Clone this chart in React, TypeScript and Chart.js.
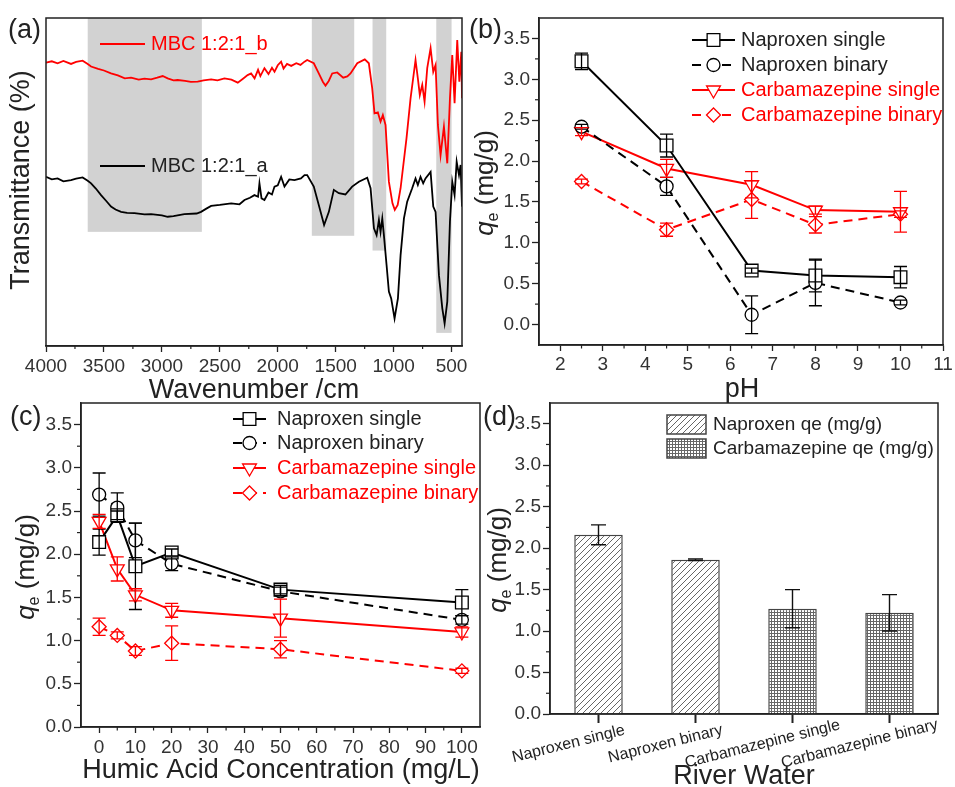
import React, { useEffect, useRef } from 'react';
import { Chart, registerables } from 'chart.js';
Chart.register(...registerables);

const FONT = "'Liberation Sans', Arial, Helvetica, sans-serif";
const INK = '#222222';
const RED = '#ff0000';
const W = 955;
const H = 787;

// ---------------- (a) FTIR spectra ----------------
const irWnB = [4000, 3950, 3900, 3850, 3784, 3740, 3684, 3640, 3611, 3550, 3500, 3439, 3380, 3320, 3266, 3200, 3150, 3093, 3040, 2993, 2950, 2900, 2864, 2800, 2750, 2691, 2640, 2575, 2520, 2460, 2400, 2345, 2300, 2260, 2230, 2200, 2170, 2150, 2115, 2080, 2050, 2028, 2000, 1971, 1950, 1920, 1884, 1840, 1804, 1769, 1746, 1689, 1646, 1610, 1588, 1560, 1530, 1487, 1435, 1400, 1372, 1314, 1249, 1214, 1185, 1165, 1136, 1113, 1093, 1070, 1041, 1010, 990, 965, 940, 889, 854, 811, 791, 774, 753, 733, 710, 681, 658, 638, 618, 595, 566, 537, 514, 494, 474, 451, 433, 416, 410];
const irTB = [86.4, 86.8, 86.2, 86.9, 86.0, 86.6, 87.0, 86.0, 85.2, 84.5, 84.0, 83.1, 82.5, 81.6, 81.8, 81.2, 81.5, 81.3, 81.8, 82.3, 81.6, 81.0, 81.1, 80.8, 80.5, 80.6, 81.0, 81.3, 81.0, 81.6, 81.2, 80.3, 81.5, 82.6, 83.1, 81.6, 84.2, 82.3, 84.7, 82.9, 84.8, 83.6, 85.6, 86.7, 84.6, 86.0, 85.4, 86.2, 85.7, 86.7, 87.2, 86.2, 83.1, 80.5, 79.4, 80.8, 83.1, 83.4, 81.8, 82.2, 83.1, 86.2, 87.4, 86.2, 78.6, 70.9, 71.2, 68.4, 70.4, 67.4, 50.1, 43.5, 41.5, 43.0, 48.1, 63.3, 75.5, 87.2, 81.6, 76.5, 79.6, 74.5, 84.7, 90.8, 83.6, 85.7, 67.4, 58.2, 66.9, 55.7, 75.5, 88.7, 74.0, 93.3, 80.6, 89.7, 75.5];
const irWnA = [4000, 3950, 3900, 3850, 3784, 3740, 3684, 3640, 3611, 3570, 3525, 3480, 3439, 3400, 3352, 3300, 3237, 3150, 3093, 3000, 2950, 2900, 2806, 2700, 2662, 2620, 2575, 2500, 2402, 2330, 2287, 2240, 2201, 2170, 2158, 2140, 2115, 2080, 2050, 2028, 2000, 1971, 1942, 1900, 1856, 1800, 1769, 1746, 1689, 1646, 1600, 1559, 1516, 1473, 1416, 1358, 1300, 1228, 1199, 1170, 1147, 1127, 1113, 1098, 1084, 1061, 1041, 1021, 992, 963, 940, 911, 883, 840, 811, 791, 768, 745, 725, 681, 658, 638, 609, 580, 560, 537, 514, 494, 474, 456, 436, 422, 410];
const irTA = [51.6, 50.8, 51.1, 50.2, 50.6, 51.0, 51.4, 50.4, 49.6, 48.0, 46.0, 44.2, 42.5, 41.6, 40.9, 40.6, 40.5, 40.1, 40.2, 39.8, 39.4, 39.6, 40.2, 40.4, 40.9, 41.8, 42.7, 43.0, 43.5, 43.2, 44.5, 45.2, 46.0, 45.5, 49.6, 45.0, 44.5, 46.8, 46.2, 48.6, 49.0, 51.6, 48.6, 50.8, 50.6, 51.1, 52.1, 52.1, 48.6, 43.0, 36.9, 40.9, 47.6, 46.6, 46.2, 48.6, 50.1, 51.3, 48.1, 35.9, 33.8, 38.4, 34.8, 38.9, 33.8, 24.7, 16.6, 14.5, 8.4, 14.5, 27.7, 38.9, 44.0, 48.1, 51.1, 49.1, 51.6, 49.6, 51.1, 53.1, 42.5, 40.9, 21.6, 11.5, 6.9, 13.5, 37.9, 50.1, 46.0, 56.2, 52.1, 55.2, 42.5];
const irBandFrom = [3640, 1706, 1182, 632];
const irBandTo = [2655, 1340, 1064, 500];
const irBandBottom = [34.8, 33.6, 29.1, 4];
const irTicks = [4000, 3500, 3000, 2500, 2000, 1500, 1000, 500];
const irMinor = [3750, 3250, 2750, 2250, 1750, 1250, 750];
const irLabels = ['MBC 1:2:1_b', 'MBC 1:2:1_a'];

// ---------------- (b) pH ----------------
const phX = [2.5, 4.5, 6.5, 8, 10];
const phNapSingle = [3.22, 2.19, 0.66, 0.6, 0.58];
const phNapSingleErr = [0.1, 0.14, 0.03, 0.2, 0.13];
const phNapBinary = [2.42, 1.69, 0.12, 0.51, 0.27];
const phNapBinaryErr = [0.03, 0.11, 0.23, 0.28, 0.03];
const phCbzSingle = [2.36, 1.91, 1.71, 1.4, 1.38];
const phCbzSingleErr = [0.05, 0.11, 0.16, 0.05, 0.25];
const phCbzBinary = [1.75, 1.16, 1.53, 1.22, 1.35];
const phCbzBinaryErr = [0.03, 0.08, 0.23, 0.1, 0.04];
const phXTicks = [2, 3, 4, 5, 6, 7, 8, 9, 10, 11];
const phXMinor = [2.5, 3.5, 4.5, 5.5, 6.5, 7.5, 8.5, 9.5, 10.5];

// ---------------- (c) humic acid ----------------
const haX = [0, 5, 10, 20, 50, 100];
const haNapSingle = [2.14, 2.45, 1.86, 2.02, 1.59, 1.44];
const haNapSingleErr = [0.15, 0.05, 0.5, 0.04, 0.05, 0.15];
const haNapBinary = [2.69, 2.54, 2.16, 1.89, 1.57, 1.24];
const haNapBinaryErr = [0.25, 0.17, 0.2, 0.08, 0.05, 0.05];
const haCbzSingle = [2.38, 1.83, 1.53, 1.35, 1.26, 1.1];
const haCbzSingleErr = [0.08, 0.14, 0.07, 0.08, 0.22, 0.06];
const haCbzBinary = [1.16, 1.06, 0.88, 0.97, 0.9, 0.65];
const haCbzBinaryErr = [0.1, 0.04, 0.05, 0.2, 0.1, 0.03];
const haXTicks = [0, 10, 20, 30, 40, 50, 60, 70, 80, 90, 100];
const haXMinor = [5, 15, 25, 35, 45, 55, 65, 75, 85, 95];

// ---------------- (d) river water ----------------
const rwCategories = ['Naproxen single', 'Naproxen binary', 'Carbamazepine single', 'Carbamazepine binary'];
const rwNaproxen = [2.16, 1.86, null, null];
const rwNaproxenErr = [0.12, 0.01, 0, 0];
const rwCarbamazepine = [null, null, 1.27, 1.22];
const rwCarbamazepineErr = [0, 0, 0.23, 0.22];
const rwLegend = ['Naproxen qe (mg/g)', 'Carbamazepine qe (mg/g)'];

// shared q axis
const qTicks = [0, 0.5, 1, 1.5, 2, 2.5, 3, 3.5];
const qMinor = [0.25, 0.75, 1.25, 1.75, 2.25, 2.75, 3.25];
const seriesNames = ['Naproxen single', 'Naproxen binary', 'Carbamazepine single', 'Carbamazepine binary'];

// ---------------- helpers ----------------
function linAxis(o: any) {
  return {
    type: 'linear',
    display: o.display !== false,
    min: o.min,
    max: o.max,
    reverse: !!o.reverse,
    afterFit: (s: any) => {
      if (o.horizontal) s.height = o.size;
      else s.width = o.size;
    },
    afterBuildTicks: (s: any) => {
      if (o.ticks) s.ticks = o.ticks.map((v: number) => ({ value: v }));
    },
    grid: { display: true, drawOnChartArea: false, drawTicks: true, tickLength: o.tickLength ?? 6, color: INK, tickWidth: 1.3 },
    border: { display: true, color: INK, width: 1.5 },
    ticks: {
      display: o.labels !== false,
      autoSkip: false,
      maxRotation: 0,
      minRotation: 0,
      padding: o.padding ?? 3,
      color: '#333',
      font: { family: FONT, size: 19 },
      callback: (v: any) => (o.fmt ? o.fmt(v) : String(v)),
    },
  };
}

function framePlugin() {
  return {
    id: 'frame',
    afterDraw(chart: any) {
      const { left, top, right, bottom } = chart.chartArea;
      const ctx = chart.ctx;
      ctx.save();
      ctx.strokeStyle = INK;
      ctx.lineWidth = 1.5;
      ctx.strokeRect(left, top, right - left, bottom - top);
      ctx.restore();
    },
  };
}

function minorPlugin(specs: { axis: string; values: number[]; len: number }[]) {
  return {
    id: 'minorTicks',
    afterDraw(chart: any) {
      const ctx = chart.ctx;
      const a = chart.chartArea;
      ctx.save();
      ctx.strokeStyle = INK;
      ctx.lineWidth = 1.2;
      for (const s of specs) {
        const sc = chart.scales[s.axis];
        for (const v of s.values) {
          const p = sc.getPixelForValue(v);
          ctx.beginPath();
          if (s.axis === 'x') {
            ctx.moveTo(p, a.bottom);
            ctx.lineTo(p, a.bottom + s.len);
          } else {
            ctx.moveTo(a.left, p);
            ctx.lineTo(a.left - s.len, p);
          }
          ctx.stroke();
        }
      }
      ctx.restore();
    },
  };
}

function errorPlugin(cap: number, lw: number) {
  return {
    id: 'errorBars',
    afterDatasetsDraw(chart: any) {
      const ctx = chart.ctx;
      const ys = chart.scales.y;
      chart.data.datasets.forEach((ds: any, i: number) => {
        const errs = ds.errors;
        if (!errs) return;
        const meta = chart.getDatasetMeta(i);
        ctx.save();
        ctx.strokeStyle = ds.errorColor || ds.borderColor;
        ctx.lineWidth = lw;
        ctx.setLineDash([]);
        meta.data.forEach((el: any, j: number) => {
          const raw = ds.data[j];
          const v = raw == null ? null : typeof raw === 'object' ? raw.y : raw;
          if (v == null || !errs[j]) return;
          const x = el.x;
          const t = ys.getPixelForValue(v + errs[j]);
          const b = ys.getPixelForValue(v - errs[j]);
          ctx.beginPath();
          ctx.moveTo(x, t);
          ctx.lineTo(x, b);
          ctx.moveTo(x - cap / 2, t);
          ctx.lineTo(x + cap / 2, t);
          ctx.moveTo(x - cap / 2, b);
          ctx.lineTo(x + cap / 2, b);
          ctx.stroke();
        });
        ctx.restore();
      });
    },
  };
}

function textPlugin(draw: (ctx: CanvasRenderingContext2D, chart: any) => void) {
  return {
    id: 'texts',
    afterDraw(chart: any) {
      const ctx = chart.ctx as CanvasRenderingContext2D;
      ctx.save();
      draw(ctx, chart);
      ctx.restore();
    },
  };
}

function text(ctx: CanvasRenderingContext2D, s: string, x: number, y: number, size: number, color = INK, align: CanvasTextAlign = 'left', baseline: CanvasTextBaseline = 'alphabetic') {
  ctx.font = `${size}px ${FONT}`;
  ctx.fillStyle = color;
  ctx.textAlign = align;
  ctx.textBaseline = baseline;
  ctx.fillText(s, x, y);
}

function rotText(ctx: CanvasRenderingContext2D, s: string, cx: number, cy: number, size: number, angle: number, color = INK) {
  ctx.save();
  ctx.translate(cx, cy);
  ctx.rotate(angle);
  text(ctx, s, 0, 0, size, color, 'center', 'middle');
  ctx.restore();
}

function drawQe(ctx: CanvasRenderingContext2D, cx: number, cy: number, size: number) {
  ctx.save();
  ctx.translate(cx, cy);
  ctx.rotate(-Math.PI / 2);
  const fq = `italic ${size}px ${FONT}`;
  const fe = `${Math.round(size * 0.62)}px ${FONT}`;
  const fr = `${size}px ${FONT}`;
  ctx.font = fq;
  const wq = ctx.measureText('q').width;
  ctx.font = fe;
  const we = ctx.measureText('e').width;
  ctx.font = fr;
  const wr = ctx.measureText(' (mg/g)').width;
  let x = -(wq + we + wr) / 2;
  const base = size * 0.33;
  ctx.fillStyle = INK;
  ctx.textAlign = 'left';
  ctx.textBaseline = 'alphabetic';
  ctx.font = fq;
  ctx.fillText('q', x, base);
  x += wq;
  ctx.font = fe;
  ctx.fillText('e', x, base + size * 0.22);
  x += we;
  ctx.font = fr;
  ctx.fillText(' (mg/g)', x, base);
  ctx.restore();
}

function drawMarker(ctx: CanvasRenderingContext2D, style: string, x: number, y: number, r: number, color: string) {
  ctx.beginPath();
  if (style === 'rect') {
    const s = Math.SQRT1_2 * r;
    ctx.rect(x - s, y - s, 2 * s, 2 * s);
  } else if (style === 'circle') {
    ctx.arc(x, y, r, 0, Math.PI * 2);
  } else if (style === 'triangle') {
    // pointing down
    ctx.moveTo(x, y + r);
    ctx.lineTo(x + r * Math.sin((2 * Math.PI) / 3), y - r * 0.5);
    ctx.lineTo(x - r * Math.sin((2 * Math.PI) / 3), y - r * 0.5);
    ctx.closePath();
  } else {
    ctx.moveTo(x - r, y);
    ctx.lineTo(x, y - r);
    ctx.lineTo(x + r, y);
    ctx.lineTo(x, y + r);
    ctx.closePath();
  }
  ctx.fillStyle = '#fff';
  ctx.fill();
  ctx.strokeStyle = color;
  ctx.lineWidth = 1.3;
  ctx.setLineDash([]);
  ctx.stroke();
}

const seriesStyle = [
  { color: '#000', dashed: false, style: 'rect', r: 9, rot: 0 },
  { color: '#000', dashed: true, style: 'circle', r: 6.5, rot: 0 },
  { color: RED, dashed: false, style: 'triangle', r: 8, rot: 180 },
  { color: RED, dashed: true, style: 'rectRot', r: 7, rot: 0 },
];
const DASH = [9, 6];

function lineSeries(k: number, xs: number[], ys: number[], errs: number[]) {
  const st = seriesStyle[k];
  return {
    label: seriesNames[k],
    data: xs.map((x, i) => ({ x, y: ys[i] })),
    errors: errs,
    borderColor: st.color,
    borderWidth: 2,
    borderDash: st.dashed ? DASH : [],
    pointStyle: st.style,
    pointRadius: st.r,
    pointHoverRadius: st.r,
    pointRotation: st.rot,
    pointBorderColor: st.color,
    pointBackgroundColor: '#fff',
    pointBorderWidth: 1.3,
    tension: 0,
    fill: false,
  };
}

function drawSeriesLegend(ctx: CanvasRenderingContext2D, x1: number, x2: number, rows: number[], textX: number, size: number) {
  rows.forEach((y, k) => {
    const st = seriesStyle[k];
    ctx.save();
    ctx.strokeStyle = st.color;
    ctx.lineWidth = 2;
    ctx.setLineDash(st.dashed ? DASH : []);
    ctx.beginPath();
    ctx.moveTo(x1, y);
    ctx.lineTo(x2, y);
    ctx.stroke();
    ctx.restore();
    drawMarker(ctx, st.style, (x1 + x2) / 2, y, st.r, st.color);
    text(ctx, seriesNames[k], textX, y, size, st.color === RED ? RED : INK, 'left', 'middle');
  });
}

const basePlugins = { legend: { display: false }, tooltip: { enabled: false } };
const qFmt = (v: any) => Number(v).toFixed(1);

// ---------------- chart configs ----------------
function makeA() {
  const bands = {
    id: 'bands',
    beforeDatasetsDraw(chart: any) {
      const ctx = chart.ctx;
      const xs = chart.scales.x;
      const ys = chart.scales.y;
      ctx.save();
      ctx.fillStyle = '#d2d2d2';
      irBandFrom.forEach((f, i) => {
        const a = xs.getPixelForValue(f);
        const b = xs.getPixelForValue(irBandTo[i]);
        const top = chart.chartArea.top;
        const bot = ys.getPixelForValue(irBandBottom[i]);
        ctx.fillRect(Math.min(a, b), top, Math.abs(b - a), bot - top);
      });
      ctx.restore();
    },
  };
  return {
    type: 'line',
    data: {
      datasets: [
        { label: irLabels[0], data: irWnB.map((x, i) => ({ x, y: irTB[i] })), borderColor: RED, borderWidth: 1.8, pointRadius: 0, tension: 0 },
        { label: irLabels[1], data: irWnA.map((x, i) => ({ x, y: irTA[i] })), borderColor: '#000', borderWidth: 1.8, pointRadius: 0, tension: 0 },
      ],
    },
    options: {
      responsive: false,
      animation: false,
      events: [],
      layout: { padding: { left: 46, right: W - 462, top: 18, bottom: H - 346 - 40 } },
      plugins: basePlugins,
      scales: {
        x: linAxis({ horizontal: true, size: 40, min: 410, max: 4000, reverse: true, ticks: irTicks, padding: 3 }),
        y: { type: 'linear', display: false, min: 0, max: 100 },
      },
    },
    plugins: [
      bands,
      framePlugin(),
      minorPlugin([{ axis: 'x', values: irMinor, len: 3 }]),
      textPlugin((ctx) => {
        text(ctx, '(a)', 8, 38, 27);
        ctx.strokeStyle = RED;
        ctx.lineWidth = 2;
        ctx.beginPath();
        ctx.moveTo(100, 44);
        ctx.lineTo(145, 44);
        ctx.stroke();
        text(ctx, irLabels[0], 151, 44, 20, RED, 'left', 'middle');
        ctx.strokeStyle = '#000';
        ctx.beginPath();
        ctx.moveTo(100, 166);
        ctx.lineTo(145, 166);
        ctx.stroke();
        text(ctx, irLabels[1], 151, 166, 20, INK, 'left', 'middle');
        text(ctx, 'Wavenumber /cm', 254, 398, 27, INK, 'center');
        rotText(ctx, 'Transmittance (%)', 22, 180, 27, -Math.PI / 2);
      }),
    ],
  };
}

function makeB() {
  return {
    type: 'line',
    data: {
      datasets: [
        lineSeries(0, phX, phNapSingle, phNapSingleErr),
        lineSeries(1, phX, phNapBinary, phNapBinaryErr),
        lineSeries(2, phX, phCbzSingle, phCbzSingleErr),
        lineSeries(3, phX, phCbzBinary, phCbzBinaryErr),
      ],
    },
    options: {
      responsive: false,
      animation: false,
      events: [],
      layout: { padding: { left: 539 - 50, right: W - 943, top: 18, bottom: H - 345 - 40 } },
      plugins: basePlugins,
      scales: {
        x: linAxis({ horizontal: true, size: 40, min: 1.5, max: 11, ticks: phXTicks, padding: 2 }),
        y: linAxis({ size: 50, min: -0.25, max: 3.75, ticks: qTicks, fmt: qFmt, tickLength: 7, padding: 2 }),
      },
    },
    plugins: [
      framePlugin(),
      errorPlugin(13, 1.3),
      minorPlugin([
        { axis: 'x', values: phXMinor, len: 3.5 },
        { axis: 'y', values: qMinor, len: 4 },
      ]),
      textPlugin((ctx) => {
        text(ctx, '(b)', 469, 38, 27);
        drawSeriesLegend(ctx, 692, 735, [40, 65, 90, 115], 741, 20);
        text(ctx, 'pH', 742, 397, 27, INK, 'center');
        drawQe(ctx, 484, 183, 26);
      }),
    ],
  };
}

function makeC() {
  return {
    type: 'line',
    data: {
      datasets: [
        lineSeries(0, haX, haNapSingle, haNapSingleErr),
        lineSeries(1, haX, haNapBinary, haNapBinaryErr),
        lineSeries(2, haX, haCbzSingle, haCbzSingleErr),
        lineSeries(3, haX, haCbzBinary, haCbzBinaryErr),
      ],
    },
    options: {
      responsive: false,
      animation: false,
      events: [],
      layout: { padding: { left: 81 - 50, right: W - 480, top: 403, bottom: H - 727 - 40 } },
      plugins: basePlugins,
      scales: {
        x: linAxis({ horizontal: true, size: 40, min: -5, max: 105, ticks: haXTicks, padding: 3 }),
        y: linAxis({ size: 50, min: 0, max: 3.75, ticks: qTicks, fmt: qFmt, tickLength: 7, padding: 2 }),
      },
    },
    plugins: [
      framePlugin(),
      errorPlugin(13, 1.3),
      minorPlugin([
        { axis: 'x', values: haXMinor, len: 3.5 },
        { axis: 'y', values: qMinor, len: 4 },
      ]),
      textPlugin((ctx) => {
        text(ctx, '(c)', 10, 425, 27);
        drawSeriesLegend(ctx, 233, 266, [419, 443, 468, 493], 277, 20);
        text(ctx, 'Humic Acid Concentration (mg/L)', 281, 778, 27, INK, 'center');
        drawQe(ctx, 25, 567, 26);
      }),
    ],
  };
}

function makeD(canvas: HTMLCanvasElement) {
  const ctx0 = canvas.getContext('2d')!;
  const hc = document.createElement('canvas');
  hc.width = 6;
  hc.height = 6;
  const hg = hc.getContext('2d')!;
  hg.fillStyle = '#fff';
  hg.fillRect(0, 0, 6, 6);
  hg.strokeStyle = '#666';
  hg.lineWidth = 1;
  hg.beginPath();
  hg.moveTo(0, 6);
  hg.lineTo(6, 0);
  hg.moveTo(-1, 1);
  hg.lineTo(1, -1);
  hg.moveTo(5, 7);
  hg.lineTo(7, 5);
  hg.stroke();
  const hatch = ctx0.createPattern(hc, 'repeat');
  const gc = document.createElement('canvas');
  gc.width = 3;
  gc.height = 3;
  const gg = gc.getContext('2d')!;
  gg.fillStyle = '#fff';
  gg.fillRect(0, 0, 3, 3);
  gg.fillStyle = '#666';
  gg.fillRect(0, 0, 3, 1);
  gg.fillRect(0, 0, 1, 3);
  const grid = ctx0.createPattern(gc, 'repeat');

  return {
    type: 'bar',
    data: {
      labels: rwCategories,
      datasets: [
        { label: rwLegend[0], data: rwNaproxen, errors: rwNaproxenErr, errorColor: '#111', backgroundColor: hatch, borderColor: '#444', borderWidth: 1.5, skipNull: true, barPercentage: 0.5, categoryPercentage: 1 },
        { label: rwLegend[1], data: rwCarbamazepine, errors: rwCarbamazepineErr, errorColor: '#111', backgroundColor: grid, borderColor: '#444', borderWidth: 1.5, skipNull: true, barPercentage: 0.5, categoryPercentage: 1 },
      ],
    },
    options: {
      responsive: false,
      animation: false,
      events: [],
      layout: { padding: { left: 550 - 50, right: W - 938, top: 403, bottom: H - 714 - 40 } },
      plugins: basePlugins,
      scales: {
        x: {
          type: 'category',
          offset: true,
          afterFit: (s: any) => {
            s.height = 40;
          },
          grid: { display: true, offset: false, drawOnChartArea: false, drawTicks: true, tickLength: 9, color: INK, tickWidth: 2 },
          border: { display: true, color: INK, width: 1.5 },
          ticks: { display: true, autoSkip: false, maxRotation: 0, callback: () => '' },
        },
        y: linAxis({ size: 50, min: 0, max: 3.75, ticks: qTicks, fmt: qFmt, tickLength: 7, padding: 2 }),
      },
    },
    plugins: [
      framePlugin(),
      errorPlugin(15, 1.4),
      minorPlugin([{ axis: 'y', values: qMinor, len: 4 }]),
      textPlugin((ctx, chart) => {
        text(ctx, '(d)', 483, 425, 27);
        const xs = chart.scales.x;
        rwCategories.forEach((c, i) => {
          const px = xs.getPixelForTick(i);
          rotText(ctx, c, px - 30, 744, 16, (-14 * Math.PI) / 180, '#222');
        });
        const pats = [hatch, grid];
        [415, 439].forEach((y, k) => {
          ctx.fillStyle = pats[k] as any;
          ctx.fillRect(667, y, 39, 19);
          ctx.strokeStyle = '#444';
          ctx.lineWidth = 1.5;
          ctx.strokeRect(667, y, 39, 19);
          text(ctx, rwLegend[k], 713, y + 10, 19, INK, 'left', 'middle');
        });
        text(ctx, 'River Water', 744, 784, 27, INK, 'center');
        drawQe(ctx, 497, 560, 26);
      }),
    ],
  };
}

function ChartCanvas({ make }: { make: (c: HTMLCanvasElement) => any }) {
  const ref = useRef<HTMLCanvasElement>(null);
  useEffect(() => {
    const canvas = ref.current!;
    const chart = new Chart(canvas, make(canvas));
    return () => chart.destroy();
  }, [make]);
  return (
    <canvas
      ref={ref}
      width={W}
      height={H}
      style={{ position: 'absolute', left: 0, top: 0, width: W, height: H, display: 'block' }}
    />
  );
}

export default function App() {
  return (
    <div style={{ position: 'absolute', left: 0, top: 0, width: W, height: H, background: '#fff', overflow: 'hidden' }}>
      <ChartCanvas make={makeA} />
      <ChartCanvas make={makeB} />
      <ChartCanvas make={makeC} />
      <ChartCanvas make={makeD} />
    </div>
  );
}
